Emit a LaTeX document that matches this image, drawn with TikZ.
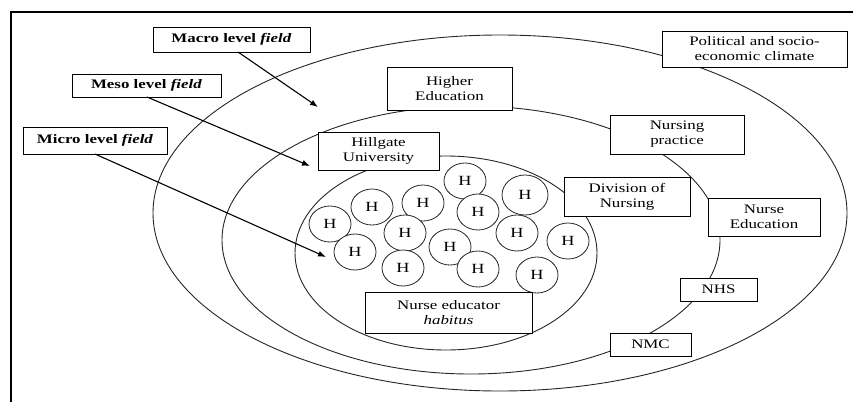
\documentclass[tikz,border=0pt]{standalone}
\usepackage{fontspec}
\setmainfont{Liberation Serif}[FakeStretch=1.3]
\usetikzlibrary{shapes.geometric,arrows.meta}
\begin{document}
\begin{tikzpicture}[x=1pt,y=-1pt,
  ring/.style={draw=black!85, line width=0.9pt},
  lbl/.style={draw, fill=white, line width=1pt, align=center, inner sep=0pt,
     font=\fontsize{13}{15}\selectfont},
  hc/.style={draw=black!85, fill=white, ellipse, line width=0.8pt, inner sep=0pt,
     minimum width=42pt, minimum height=36pt, font=\fontsize{14}{15}\selectfont},
  pointer/.style={-{Latex[length=8pt,width=6pt]}, line width=1.1pt}]
\useasboundingbox (0,0) rectangle (853,402);
% frame
\draw[line width=1.3pt] (11,402) -- (11,12) -- (853,12);
% fields
\draw[ring] (500,213) ellipse [x radius=347pt, y radius=178pt];
\draw[ring] (471,240) ellipse [x radius=249pt, y radius=134pt];
\draw[ring] (446,253) ellipse [x radius=151pt, y radius=97pt];
% habitus circles
\node[hc] (h1) at (330,224) {H};
\node[hc] (h2) at (372,207) {H};
\node[hc] (h3) at (423,203) {H};
\node[hc] (h4) at (465,181) {H};
\node[hc, minimum width=46pt, minimum height=40pt] (h5) at (525,195) {H};
\node[hc] (h6) at (478,212) {H};
\node[hc] (h7) at (405,233) {H};
\node[hc] (h8) at (517,233) {H};
\node[hc] (h9) at (568,241) {H};
\node[hc] (h10) at (355,252) {H};
\node[hc] (h11) at (450,247) {H};
\node[hc] (h12) at (403,268) {H};
\node[hc] (h13) at (478,269) {H};
\node[hc] (h14) at (537,275) {H};
% labels
\node[lbl, minimum width=157pt, minimum height=25pt] (macro) at (231.5,39.5) {\textbf{Macro level \textit{field}}};
\node[lbl, minimum width=149pt, minimum height=23pt] (meso) at (146.5,85.5) {\textbf{Meso level \textit{field}}};
\node[lbl, minimum width=144pt, minimum height=27pt] (micro) at (95,140.5) {\textbf{Micro level \textit{field}}};
\node[lbl, minimum width=185pt, minimum height=36pt] (pol) at (754.5,49) {Political and socio-\\economic climate};
\node[lbl, minimum width=125pt, minimum height=43pt] (higher) at (449.5,88.5) {Higher\\Education};
\node[lbl, minimum width=121pt, minimum height=38pt] (hill) at (378.5,151) {Hillgate\\University};
\node[lbl, minimum width=134pt, minimum height=39pt] (nprac) at (677,134.5) {Nursing\\practice};
\node[lbl, minimum width=126pt, minimum height=39pt] (div) at (627,196.5) {Division of\\Nursing};
\node[lbl, minimum width=112pt, minimum height=38pt] (ned) at (764,217) {Nurse\\Education};
\node[lbl, minimum width=77pt, minimum height=23pt] (nhs) at (718.5,289.5) {NHS};
\node[lbl, minimum width=81pt, minimum height=23pt] (nmc) at (650.5,344.5) {NMC};
\node[lbl, minimum width=167pt, minimum height=41pt] (hab) at (448.5,312.5) {Nurse educator\\\textit{habitus}};
% arrows
\coordinate (macroT) at (318,107);
\coordinate (mesoT) at (310,166);
\coordinate (microT) at (326,257);
\coordinate (macroS) at (238,52);
\coordinate (mesoS) at (147,97);
\coordinate (microS) at (95,154);
\draw[pointer] (macroS) -- (macroT);
\draw[pointer] (mesoS) -- (mesoT);
\draw[pointer] (microS) -- (microT);
\end{tikzpicture}
\end{document}
